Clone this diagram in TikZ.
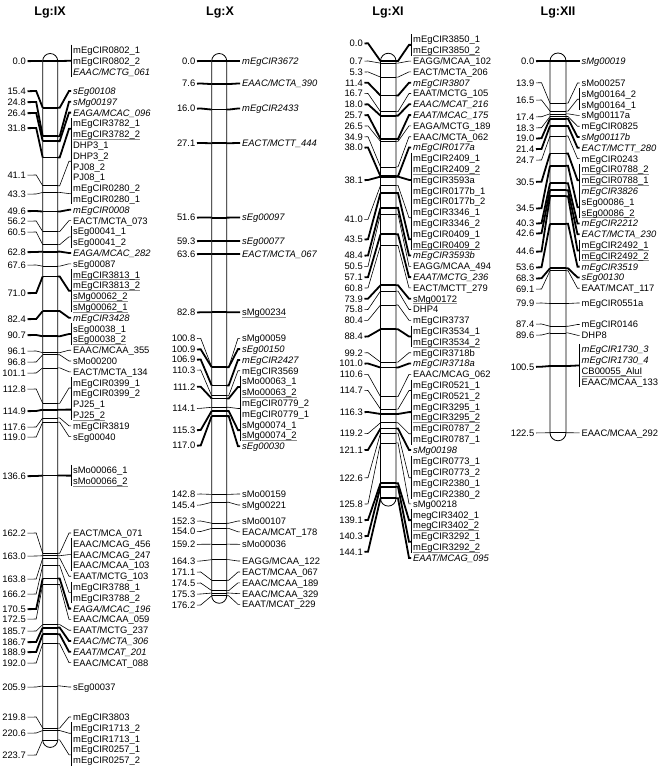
\documentclass[tikz,border=0pt]{standalone}
\usepackage{fontspec}
\setmainfont{Liberation Sans}
\newcount\labcnt
\newcount\poscnt
\newcommand\fs{\fontsize{9.4}{10.8}\selectfont}
\newcommand\ulg[1]{\setbox0=\hbox{#1}\rlap{\color{black!45}\rule[-1.8pt]{\wd0}{0.6pt}}\box0}
\tikzset{
  mkthin/.style={line width=0.6pt},
  mkthick/.style={line width=1.8pt},
  num/.style={font=\fs, inner sep=0pt, anchor=base east},
  lab/.style={font=\fs, inner sep=0pt, anchor=base west},
  ttl/.style={font=\bfseries\fontsize{12.5}{14}\selectfont, inner sep=0pt, anchor=base},
  barline/.style={line width=0.8pt},
  brk/.style={line width=0.6pt}
}
\newcommand\setchr[6]{\def\cchr{#1}\def\cbl{#2}\def\cbr{#3}\def\cnum{#4}\def\cbend{#5}\def\cbrk{#6}}
\newcommand\mk[5]{%
  \global\advance\poscnt by 1
  \edef\pname{n\the\poscnt}%
  \pgfmathsetmacro\mby{61+3.035*#1}%
  \global\labcnt=0
  \foreach \t in {#5}{\global\advance\labcnt by 1}%
  \pgfmathsetmacro\mly{#3+(\the\labcnt-1)*5.4}%
  \draw[#4] (\cbl,\mby) -- (\cbr,\mby);
  \node[num] (\pname) at (\cnum,#2+3.4) {#1};
  \draw[#4] ([xshift=1.5pt]\pname.east) -- (\cbend,#2) -- (\cbl,\mby);
  \draw[#4] (\cbr,\mby) -- (\cbr+2,\mby) -- (\cbrk-2,\mly) -- (\cbrk,\mly);
  \ifnum\labcnt>1 \draw[brk] (\cbrk,#3-5.4) -- (\cbrk,{#3+(\the\labcnt-1)*10.8+5.4});\fi
  \foreach \t [count=\i from 0] in {#5}{\node[lab] (\pname-\i) at (\cbrk+2,{#3+\i*10.8+3.4}) {\t};}
}
\newcommand\barout[1]{%
  \pgfmathsetmacro\bcx{(\cbl+\cbr)/2}\pgfmathsetmacro\brr{(\cbr-\cbl)/2}%
  \pgfmathsetmacro\bkk{0.5523*\brr}\pgfmathsetmacro\byb{61+3.035*#1}%
  \draw[barline] (\cbl,61) .. controls (\cbl,61-\bkk) and (\bcx-\bkk,61-\brr) .. (\bcx,61-\brr)
    .. controls (\bcx+\bkk,61-\brr) and (\cbr,61-\bkk) .. (\cbr,61) -- (\cbr,\byb)
    .. controls (\cbr,\byb+\bkk) and (\bcx+\bkk,\byb+\brr) .. (\bcx,\byb+\brr)
    .. controls (\bcx-\bkk,\byb+\brr) and (\cbl,\byb+\bkk) .. (\cbl,\byb) -- cycle;
}
\begin{document}
\begin{tikzpicture}[x=1pt,y=-1pt]
\useasboundingbox (0,0) rectangle (662,768);
% ---------------- IX
\node[ttl] (tIX) at (50,16) {Lg:IX};
\setchr{IX}{42.7}{57.7}{26}{36.2}{71}
\mk{0.0}{61}{50}{mkthick}{mEgCIR0802\_1,mEgCIR0802\_2,\textit{EAAC/MCTG\_061}}
\mk{15.4}{91}{91}{mkthick}{\textit{sEg00108}}
\mk{24.8}{102}{101.8}{mkthick}{\textit{sMg00197}}
\mk{26.4}{113}{112.6}{mkthick}{\textit{EAGA/MCAC\_096}}
\mk{31.8}{128}{123.4}{mkthick}{mEgCIR3782\_1,\ulg{mEgCIR3782\_2}}
\mk{41.1}{175}{145}{mkthin}{DHP3\_1,DHP3\_2,PJ08\_2,PJ08\_1}
\mk{43.3}{194}{188.2}{mkthin}{mEgCIR0280\_2,mEgCIR0280\_1}
\mk{49.6}{211}{209.8}{mkthick}{\textit{mEgCIR0008}}
\mk{56.2}{221}{220.6}{mkthin}{EACT/MCTA\_073}
\mk{60.5}{232}{231.4}{mkthin}{sEg00041\_1,sEg00041\_2}
\mk{62.8}{252}{253}{mkthick}{\textit{EAGA/MCAC\_282}}
\mk{67.6}{265}{263.8}{mkthin}{sEg00087}
\mk{71.0}{293}{274.6}{mkthick}{\ulg{mEgCIR3813\_1},\ulg{mEgCIR3813\_2},\ulg{sMg00062\_2},\ulg{sMg00062\_1}}
\mk{82.4}{319}{317.8}{mkthick}{\textit{mEgCIR3428}}
\mk{90.7}{335}{328.6}{mkthick}{sEg00038\_1,\ulg{sEg00038\_2}}
\mk{96.1}{351}{350.2}{mkthin}{EAAC/MCAA\_355}
\mk{96.8}{362}{361}{mkthin}{sMo00200}
\mk{101.1}{373}{371.8}{mkthin}{EACT/MCTA\_134}
\mk{112.8}{389}{382.6}{mkthin}{mEgCIR0399\_1,mEgCIR0399\_2}
\mk{114.9}{411}{404.2}{mkthick}{PJ25\_1,\ulg{PJ25\_2}}
\mk{117.6}{427}{425.8}{mkthin}{mEgCIR3819}
\mk{119.0}{437}{436.6}{mkthin}{sEg00040}
\mk{136.6}{476}{470.2}{mkthick}{sMo00066\_1,\ulg{sMo00066\_2}}
\mk{162.2}{533}{533}{mkthin}{EACT/MCA\_071}
\mk{163.0}{556}{543.8}{mkthin}{EAAC/MCAG\_456,EAAC/MCAG\_247,EAAC/MCAA\_103}
\mk{163.8}{579}{576.2}{mkthin}{EAAT/MCTG\_103}
\mk{166.2}{594}{587}{mkthin}{mEgCIR3788\_1,mEgCIR3788\_2}
\mk{170.5}{609}{608.6}{mkthick}{\textit{EAGA/MCAC\_196}}
\mk{172.5}{619}{619.4}{mkthin}{EAAC/MCAA\_059}
\mk{185.7}{631}{630.2}{mkthin}{EAAT/MCTG\_237}
\mk{186.7}{642}{641}{mkthick}{\textit{EAAC/MCTA\_306}}
\mk{188.9}{652}{651.8}{mkthick}{\textit{EAAT/MCAT\_201}}
\mk{192.0}{663}{662.6}{mkthin}{EAAC/MCAT\_088}
\mk{205.9}{687}{687}{mkthin}{sEg00037}
\mk{219.8}{717}{717}{mkthin}{mEgCIR3803}
\mk{220.6}{733}{727.8}{mkthin}{mEgCIR1713\_2,mEgCIR1713\_1}
\mk{223.7}{755}{749.4}{mkthin}{mEgCIR0257\_1,mEgCIR0257\_2}
\barout{223.7}
% ---------------- X
\node[ttl] (tX) at (220,16) {Lg:X};
\setchr{X}{211.7}{226.7}{195.5}{200.7}{240}
\mk{0.0}{61}{61}{mkthick}{\textit{mEgCIR3672}}
\mk{7.6}{83.5}{83.5}{mkthick}{\textit{EAAC/MCTA\_390}}
\mk{16.0}{108.5}{108.5}{mkthick}{\textit{mEgCIR2433}}
\mk{27.1}{143}{143}{mkthick}{\textit{EACT/MCTT\_444}}
\mk{51.6}{217.5}{217.5}{mkthick}{\textit{sEg00097}}
\mk{59.3}{241}{241}{mkthick}{\textit{sEg00077}}
\mk{63.6}{254}{254}{mkthick}{\textit{EACT/MCTA\_067}}
\mk{82.8}{312.3}{312.3}{mkthick}{\ulg{sMg00234}}
\mk{100.8}{338.3}{338.3}{mkthin}{sMg00059}
\mk{100.9}{349.3}{349.1}{mkthick}{\textit{sEg00150}}
\mk{106.9}{359.5}{359.9}{mkthick}{\textit{mEgCIR2427}}
\mk{110.3}{370}{370.7}{mkthin}{mEgCIR3569}
\mk{111.2}{386.7}{381.5}{mkthick}{sMo00063\_1,\ulg{sMo00063\_2}}
\mk{114.1}{408.3}{403.1}{mkthin}{mEgCIR0779\_2,mEgCIR0779\_1}
\mk{115.3}{430}{424.7}{mkthick}{sMg00074\_1,\ulg{sMg00074\_2}}
\mk{117.0}{445.5}{446.3}{mkthick}{\textit{sEg00030}}
\mk{142.8}{494}{494}{mkthin}{sMo00159}
\mk{145.4}{505}{505}{mkthin}{sMg00221}
\mk{152.3}{521}{521}{mkthin}{sMo00107}
\mk{154.0}{531.5}{531.8}{mkthin}{EACA/MCAT\_178}
\mk{159.2}{544.3}{544.3}{mkthin}{sMo00036}
\mk{164.3}{561}{561}{mkthin}{EAGG/MCAA\_122}
\mk{171.1}{572}{572}{mkthin}{EACT/MCAA\_067}
\mk{174.5}{583}{582.8}{mkthin}{EAAC/MCAA\_189}
\mk{175.3}{594}{593.6}{mkthin}{EAAC/MCAA\_329}
\mk{176.2}{605}{604.4}{mkthin}{EAAT/MCAT\_229}
\barout{176.2}
% ---------------- XI
\node[ttl] (tXI) at (388,16) {Lg:XI};
\setchr{XI}{380.5}{396}{363}{368}{411}
\mk{0.0}{43.3}{39.5}{mkthick}{mEgCIR3850\_1,\ulg{mEgCIR3850\_2}}
\mk{0.7}{61}{61.1}{mkthin}{EAGG/MCAA\_102}
\mk{5.3}{71.9}{71.9}{mkthin}{EACT/MCTA\_206}
\mk{11.4}{82.7}{82.7}{mkthick}{\textit{mEgCIR3807}}
\mk{16.7}{93.5}{93.5}{mkthin}{EAAT/MCTG\_105}
\mk{18.0}{104.3}{104.3}{mkthick}{\textit{EAAC/MCAT\_216}}
\mk{25.7}{115.1}{115.1}{mkthick}{\textit{EAAT/MCAC\_175}}
\mk{26.5}{125.9}{125.9}{mkthin}{EAGA/MCTG\_189}
\mk{34.9}{136.7}{136.7}{mkthin}{EAAC/MCTA\_062}
\mk{38.0}{147.5}{147.5}{mkthick}{\textit{mEgCIR0177a}}
\mk{38.1}{180}{158.3}{mkthick}{mEgCIR2409\_1,\ulg{mEgCIR2409\_2},mEgCIR3593a,mEgCIR0177b\_1,mEgCIR0177b\_2}
\mk{41.0}{219.3}{212.3}{mkthin}{mEgCIR3346\_1,mEgCIR3346\_2}
\mk{43.5}{239.3}{233.9}{mkthick}{mEgCIR0409\_1,\ulg{mEgCIR0409\_2}}
\mk{48.4}{255.5}{255.5}{mkthick}{\textit{mEgCIR3593b}}
\mk{50.5}{266.3}{266.3}{mkthin}{EAGG/MCAA\_494}
\mk{57.1}{277.1}{277.1}{mkthick}{\textit{EAAT/MCTG\_236}}
\mk{60.8}{287.9}{287.9}{mkthin}{EACT/MCTT\_279}
\mk{73.9}{298.7}{298.7}{mkthick}{\ulg{sMg00172}}
\mk{75.8}{309.5}{309.5}{mkthin}{DHP4}
\mk{80.4}{320.3}{320.3}{mkthin}{mEgCIR3737}
\mk{88.4}{336.5}{331.1}{mkthick}{mEgCIR3534\_1,\ulg{mEgCIR3534\_2}}
\mk{99.2}{352.7}{352.7}{mkthin}{mEgCIR3718b}
\mk{101.0}{363.5}{363.5}{mkthick}{\textit{mEgCIR3718a}}
\mk{110.6}{374.3}{374.3}{mkthin}{EAAC/MCAG\_062}
\mk{114.7}{390.5}{385.1}{mkthin}{mEgCIR0521\_1,mEgCIR0521\_2}
\mk{116.3}{412}{406.7}{mkthick}{mEgCIR3295\_1,\ulg{mEgCIR3295\_2}}
\mk{119.2}{433.5}{428.3}{mkthin}{mEgCIR0787\_2,mEgCIR0787\_1}
\mk{121.1}{449.9}{449.9}{mkthick}{\textit{sMg00198}}
\mk{122.6}{477.7}{461.5}{mkthin}{mEgCIR0773\_1,mEgCIR0773\_2,mEgCIR2380\_1,mEgCIR2380\_2}
\mk{125.8}{503.9}{503.9}{mkthin}{sMg00218}
\mk{139.1}{520}{514.7}{mkthick}{megCIR3402\_1,\ulg{megCIR3402\_2}}
\mk{140.3}{536}{536.3}{mkthick}{mEgCIR3292\_1,\ulg{mEgCIR3292\_2}}
\mk{144.1}{551.7}{557.9}{mkthick}{\textit{EAAT/MCAG\_095}}
\barout{144.1}
% ---------------- XII
\node[ttl] (tXII) at (558,16) {Lg:XII};
\setchr{XII}{550}{566}{534.5}{541.5}{579.5}
\mk{0.0}{61}{61}{mkthick}{\textit{sMg00019}}
\mk{13.9}{82.7}{83}{mkthin}{sMo00257}
\mk{16.5}{100}{93.8}{mkthin}{sMg00164\_2,sMg00164\_1}
\mk{17.4}{116.7}{115.4}{mkthin}{sMg00117a}
\mk{18.3}{127.7}{126.2}{mkthin}{mEgCIR0825}
\mk{19.0}{138.3}{137}{mkthick}{\textit{sMg00117b}}
\mk{21.4}{149}{147.8}{mkthick}{\textit{EACT/MCTT\_280}}
\mk{24.7}{160}{158.6}{mkthin}{mEgCIR0243}
\mk{30.5}{181.7}{169.4}{mkthick}{\ulg{mEgCIR0788\_2},\ulg{mEgCIR0788\_1},\textit{mEgCIR3826}}
\mk{34.5}{208.3}{201.8}{mkthick}{sEg00086\_1,\ulg{sEg00086\_2}}
\mk{40.3}{223.3}{223.4}{mkthick}{\textit{mEgCIR2212}}
\mk{42.6}{233.3}{234.2}{mkthick}{\textit{EACT/MCTA\_230}}
\mk{44.6}{251.5}{245}{mkthick}{\ulg{mEgCIR2492\_1},\ulg{mEgCIR2492\_2}}
\mk{53.6}{267.3}{266.6}{mkthick}{\textit{mEgCIR3519}}
\mk{68.3}{278.3}{277.4}{mkthick}{\textit{sEg00130}}
\mk{69.1}{289}{288.2}{mkthin}{EAAT/MCAT\_117}
\mk{79.9}{303}{303}{mkthin}{mEgCIR0551a}
\mk{87.4}{324}{324.5}{mkthin}{mEgCIR0146}
\mk{89.6}{335}{335.3}{mkthin}{DHP8}
\mk{100.5}{366.7}{349.3}{mkthick}{\textit{mEgCIR1730\_3},\textit{mEgCIR1730\_4},\ulg{CB00055\_AluI},EAAC/MCAA\_133}
\mk{122.5}{432.8}{432.8}{mkthin}{EAAC/MCAA\_292}
\barout{122.5}
\end{tikzpicture}
\end{document}
